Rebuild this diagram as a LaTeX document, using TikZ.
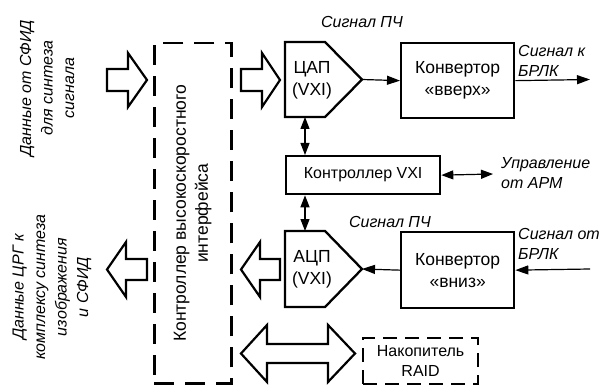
\documentclass[tikz,border=0pt]{standalone}
\usepackage{fontspec}
\setmainfont{Liberation Sans}
\usetikzlibrary{arrows.meta}
\begin{document}
\begin{tikzpicture}[x=1pt,y=-1pt,
  box/.style={draw, line width=2.3pt},
  blk/.style={draw, line width=2.2pt, line join=miter},
  thinarrow/.style={line width=1.2pt, -{Triangle[length=13pt,width=9pt]}},
  dblarrow/.style={line width=1.2pt, {Triangle[length=12pt,width=9pt]}-{Triangle[length=12pt,width=9pt]}},
  lbl/.style={font=\fontsize{16}{19.5}\selectfont\itshape, align=left, inner sep=0pt},
  sidelbl/.style={font=\fontsize{16}{21.5}\selectfont\itshape, align=center, inner sep=0pt, rotate=90},
  txt/.style={font=\fontsize{17.5}{22}\selectfont, align=center, inner sep=0pt},
  smalltxt/.style={font=\fontsize{16}{20}\selectfont, align=center, inner sep=0pt}]
\useasboundingbox (0,0) rectangle (601,387);

% high-speed interface controller
\node[draw, line width=2.5pt, dash pattern=on 20pt off 11pt, minimum width=77pt, minimum height=340pt, anchor=north west, inner sep=0pt] (hsi) at (153,42) {};
\node[txt, rotate=90] at (hsi.center) {Контроллер высокоскоростного\\интерфейса};

% side labels
\node[sidelbl] (inlbl) at (47,88) {Данные от СФИД\\для синтеза\\сигнала};
\node[sidelbl] (outlbl) at (52,287) {Данные ЦРГ к\\комплексу синтеза\\изображения\\и СФИД};

% block arrows left
\draw[blk] (107,69) -- (128,69) -- (128,53) -- (147,80) -- (128,107) -- (128,91) -- (107,91) -- cycle;
\draw[blk] (147,259) -- (126,259) -- (126,242) -- (107,269.5) -- (126,297) -- (126,280) -- (147,280) -- cycle;
% block arrows to DAC / from ADC
\draw[blk] (241,69) -- (262,69) -- (262,53) -- (280,80) -- (262,107) -- (262,91) -- (241,91) -- cycle;
\draw[blk] (280,259) -- (260,259) -- (260,242) -- (241,269.5) -- (260,297) -- (260,280) -- (280,280) -- cycle;
% double block arrow to RAID
\draw[blk] (241,353.5) -- (267,325) -- (267,344) -- (328,344) -- (328,325) -- (355,353.5) -- (328,382) -- (328,363) -- (267,363) -- (267,382) -- cycle;

% DAC
\draw[box, line join=miter] (285,42) -- (325,42) -- (362,79.5) -- (325,117) -- (285,117) -- cycle;
\node[txt] (dac) at (312,80) {ЦАП\\(VXI)};
\coordinate (dactip) at (362,79.5);
\coordinate (dacbot) at (305,117);

% converter up
\node[box, txt, minimum width=113pt, minimum height=75pt, anchor=north west] (cup) at (400,42) {Конвертор\\«вверх»};

% VXI controller
\node[box, smalltxt, minimum width=154pt, minimum height=38pt, anchor=north west] (vxi) at (285,155) {Контроллер VXI};

% ADC
\draw[box, line join=miter] (285,231) -- (325,231) -- (362,269) -- (325,307) -- (285,307) -- cycle;
\node[txt] (adc) at (312,269) {АЦП\\(VXI)};
\coordinate (adctip) at (362,269);
\coordinate (adctop) at (305,231);

% converter down
\node[box, txt, minimum width=113pt, minimum height=76pt, anchor=north west] (cdown) at (400,231) {Конвертор\\«вниз»};

% RAID
\node[draw, line width=2.2pt, dash pattern=on 14pt off 8pt, smalltxt, minimum width=115pt, minimum height=46pt, anchor=north west] (raid) at (362,337) {Накопитель\\RAID};

% free ends
\coordinate (outR) at (590,79.5);
\coordinate (inR) at (590,269);
\coordinate (armR) at (493,174);

% connectors
\draw[thinarrow] (dactip) -- (cup.west);
\draw[thinarrow] (cup.east) -- (outR);
\draw[dblarrow] (dacbot) -- (dacbot |- vxi.north);
\draw[dblarrow] (vxi.east) -- (armR);
\draw[dblarrow] (adctop |- vxi.south) -- (adctop);
\draw[thinarrow] (cdown.west) -- (adctip);
\draw[thinarrow] (inR) -- (cdown.east);

% labels
\node[lbl] (l1) at (362,22) {Сигнал ПЧ};
\node[lbl, anchor=west] (l2) at (518,61) {Сигнал к\\БРЛК};
\node[lbl, anchor=west] (l3) at (501,173) {Управление\\от АРМ};
\node[lbl] (l4) at (390,222) {Сигнал ПЧ};
\node[lbl, anchor=west] (l5) at (518,244) {Сигнал от\\БРЛК};
\end{tikzpicture}
\end{document}
